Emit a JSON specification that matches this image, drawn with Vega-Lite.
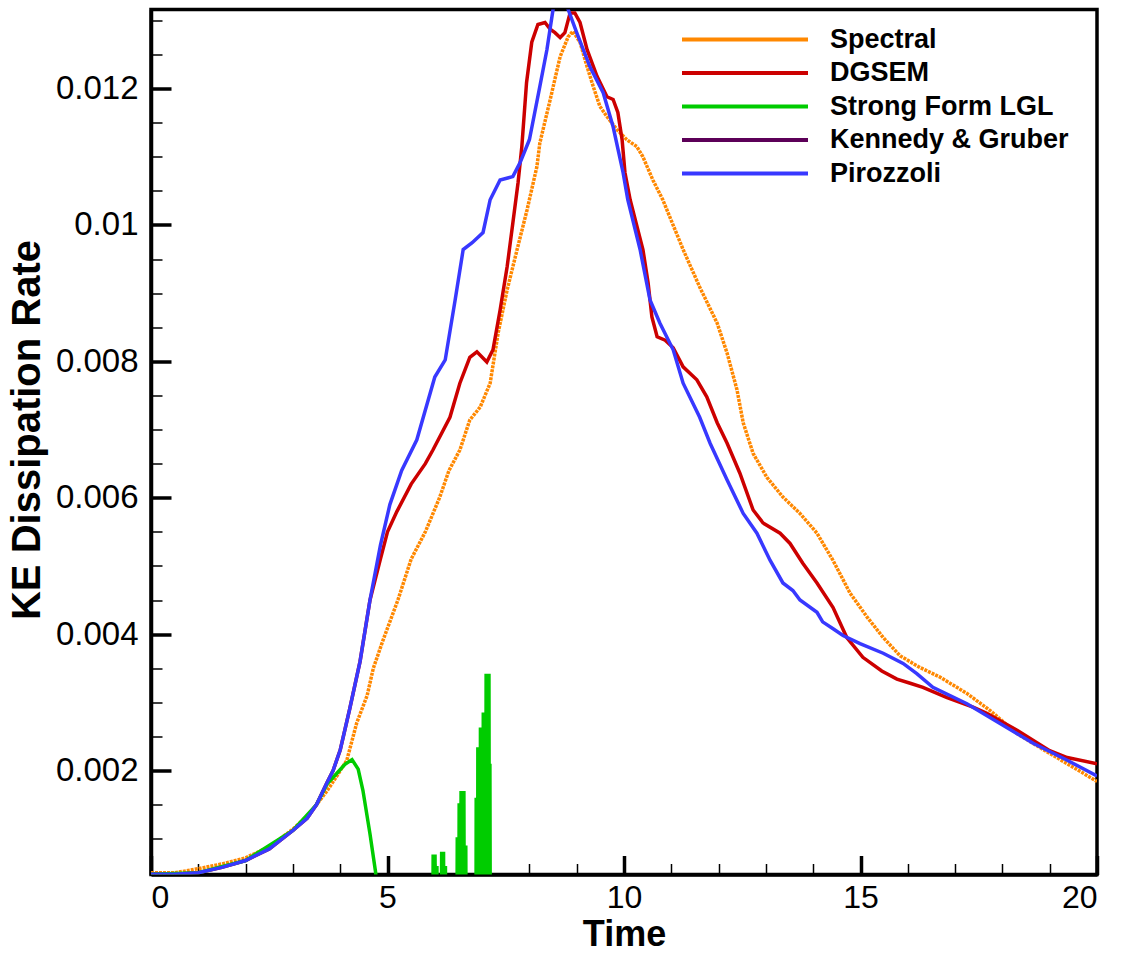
{
  "$schema": "https://vega.github.io/schema/vega-lite/v6.json",
  "width": 946,
  "height": 865,
  "autosize": "none",
  "padding": {"left": 151, "top": 9.5, "right": 24, "bottom": 79.5},
  "background": "white",
  "config": {
    "view": {"stroke": "black", "strokeWidth": 3.5},
    "axis": {
      "grid": false,
      "domainColor": "black",
      "domainWidth": 3.5,
      "tickColor": "black",
      "labelFont": "Liberation Sans",
      "labelFontSize": 33,
      "labelColor": "black",
      "titleFont": "Liberation Sans",
      "titleFontWeight": "bold",
      "titleColor": "black"
    },
    "legend": {
      "orient": "none",
      "legendX": 577,
      "legendY": 13,
      "title": null,
      "padding": 0,
      "symbolType": "M-4.2,0L4.2,0",
      "symbolSize": 900,
      "symbolStrokeWidth": 4,
      "labelFont": "Liberation Sans",
      "labelFontSize": 27,
      "labelFontWeight": "bold",
      "labelColor": "black",
      "labelLimit": 0,
      "labelOffset": 68,
      "rowPadding": 3.5
    }
  },
  "data": {
    "values": [
      {"s": "Spectral", "t": 0, "v": 0.0005},
      {"s": "Spectral", "t": 0.5, "v": 0.0005},
      {"s": "Spectral", "t": 1.0, "v": 0.00056},
      {"s": "Spectral", "t": 1.5, "v": 0.00063},
      {"s": "Spectral", "t": 2.0, "v": 0.00072},
      {"s": "Spectral", "t": 2.5, "v": 0.00088},
      {"s": "Spectral", "t": 3.0, "v": 0.00114},
      {"s": "Spectral", "t": 3.3, "v": 0.00133},
      {"s": "Spectral", "t": 3.5, "v": 0.0015},
      {"s": "Spectral", "t": 3.72, "v": 0.0017},
      {"s": "Spectral", "t": 3.93, "v": 0.00192},
      {"s": "Spectral", "t": 4.14, "v": 0.00215},
      {"s": "Spectral", "t": 4.35, "v": 0.0027},
      {"s": "Spectral", "t": 4.57, "v": 0.0031},
      {"s": "Spectral", "t": 4.7, "v": 0.0035},
      {"s": "Spectral", "t": 4.9, "v": 0.0039},
      {"s": "Spectral", "t": 5.22, "v": 0.0045},
      {"s": "Spectral", "t": 5.5, "v": 0.0051},
      {"s": "Spectral", "t": 5.8, "v": 0.0055},
      {"s": "Spectral", "t": 6.1, "v": 0.006},
      {"s": "Spectral", "t": 6.3, "v": 0.0064},
      {"s": "Spectral", "t": 6.53, "v": 0.0067},
      {"s": "Spectral", "t": 6.74, "v": 0.00714},
      {"s": "Spectral", "t": 6.96, "v": 0.00733},
      {"s": "Spectral", "t": 7.17, "v": 0.00768},
      {"s": "Spectral", "t": 7.34, "v": 0.00842},
      {"s": "Spectral", "t": 7.53, "v": 0.00905},
      {"s": "Spectral", "t": 7.74, "v": 0.00964},
      {"s": "Spectral", "t": 7.95, "v": 0.01022},
      {"s": "Spectral", "t": 8.16, "v": 0.01086},
      {"s": "Spectral", "t": 8.22, "v": 0.0112},
      {"s": "Spectral", "t": 8.44, "v": 0.01184},
      {"s": "Spectral", "t": 8.65, "v": 0.01247},
      {"s": "Spectral", "t": 8.82, "v": 0.01276},
      {"s": "Spectral", "t": 8.92, "v": 0.01284},
      {"s": "Spectral", "t": 9.07, "v": 0.01268},
      {"s": "Spectral", "t": 9.22, "v": 0.01232},
      {"s": "Spectral", "t": 9.35, "v": 0.01203},
      {"s": "Spectral", "t": 9.49, "v": 0.01174},
      {"s": "Spectral", "t": 9.64, "v": 0.01159},
      {"s": "Spectral", "t": 9.85, "v": 0.0114},
      {"s": "Spectral", "t": 10.06, "v": 0.01125},
      {"s": "Spectral", "t": 10.27, "v": 0.01115},
      {"s": "Spectral", "t": 10.4, "v": 0.011},
      {"s": "Spectral", "t": 10.61, "v": 0.01066},
      {"s": "Spectral", "t": 10.82, "v": 0.01037},
      {"s": "Spectral", "t": 11.25, "v": 0.00964},
      {"s": "Spectral", "t": 11.6, "v": 0.00909},
      {"s": "Spectral", "t": 11.97, "v": 0.00856},
      {"s": "Spectral", "t": 12.18, "v": 0.00812},
      {"s": "Spectral", "t": 12.39, "v": 0.00758},
      {"s": "Spectral", "t": 12.52, "v": 0.0071},
      {"s": "Spectral", "t": 12.73, "v": 0.00665},
      {"s": "Spectral", "t": 13.02, "v": 0.0063},
      {"s": "Spectral", "t": 13.36, "v": 0.00601},
      {"s": "Spectral", "t": 13.72, "v": 0.00577},
      {"s": "Spectral", "t": 14.08, "v": 0.00548},
      {"s": "Spectral", "t": 14.42, "v": 0.00508},
      {"s": "Spectral", "t": 14.78, "v": 0.0046},
      {"s": "Spectral", "t": 15.14, "v": 0.00425},
      {"s": "Spectral", "t": 15.48, "v": 0.00395},
      {"s": "Spectral", "t": 15.84, "v": 0.00368},
      {"s": "Spectral", "t": 16.26, "v": 0.00351},
      {"s": "Spectral", "t": 16.68, "v": 0.00337},
      {"s": "Spectral", "t": 17.25, "v": 0.00313},
      {"s": "Spectral", "t": 17.74, "v": 0.00288},
      {"s": "Spectral", "t": 18.31, "v": 0.00254},
      {"s": "Spectral", "t": 19.0, "v": 0.00225},
      {"s": "Spectral", "t": 19.37, "v": 0.0021},
      {"s": "Spectral", "t": 20.0, "v": 0.00184},

      {"s": "DGSEM", "t": 0, "v": 0.00048},
      {"s": "DGSEM", "t": 0.5, "v": 0.00048},
      {"s": "DGSEM", "t": 1.0, "v": 0.0005},
      {"s": "DGSEM", "t": 1.5, "v": 0.00058},
      {"s": "DGSEM", "t": 2.0, "v": 0.00068},
      {"s": "DGSEM", "t": 2.5, "v": 0.00085},
      {"s": "DGSEM", "t": 3.0, "v": 0.00112},
      {"s": "DGSEM", "t": 3.3, "v": 0.0013},
      {"s": "DGSEM", "t": 3.5, "v": 0.0015},
      {"s": "DGSEM", "t": 3.72, "v": 0.00182},
      {"s": "DGSEM", "t": 3.85, "v": 0.002},
      {"s": "DGSEM", "t": 4.0, "v": 0.0023},
      {"s": "DGSEM", "t": 4.2, "v": 0.0029},
      {"s": "DGSEM", "t": 4.42, "v": 0.0036},
      {"s": "DGSEM", "t": 4.63, "v": 0.0045},
      {"s": "DGSEM", "t": 4.85, "v": 0.0051},
      {"s": "DGSEM", "t": 5.0, "v": 0.0055},
      {"s": "DGSEM", "t": 5.2, "v": 0.0058},
      {"s": "DGSEM", "t": 5.5, "v": 0.0062},
      {"s": "DGSEM", "t": 5.8, "v": 0.0065},
      {"s": "DGSEM", "t": 5.96, "v": 0.0067},
      {"s": "DGSEM", "t": 6.32, "v": 0.00718},
      {"s": "DGSEM", "t": 6.53, "v": 0.00768},
      {"s": "DGSEM", "t": 6.74, "v": 0.00806},
      {"s": "DGSEM", "t": 6.89, "v": 0.00814},
      {"s": "DGSEM", "t": 7.1, "v": 0.00799},
      {"s": "DGSEM", "t": 7.23, "v": 0.00817},
      {"s": "DGSEM", "t": 7.38, "v": 0.00875},
      {"s": "DGSEM", "t": 7.53, "v": 0.00939},
      {"s": "DGSEM", "t": 7.65, "v": 0.01003},
      {"s": "DGSEM", "t": 7.76, "v": 0.01062},
      {"s": "DGSEM", "t": 7.84, "v": 0.01115},
      {"s": "DGSEM", "t": 7.94, "v": 0.01209},
      {"s": "DGSEM", "t": 8.05, "v": 0.01268},
      {"s": "DGSEM", "t": 8.18, "v": 0.01294},
      {"s": "DGSEM", "t": 8.33, "v": 0.01297},
      {"s": "DGSEM", "t": 8.44, "v": 0.01287},
      {"s": "DGSEM", "t": 8.54, "v": 0.01282},
      {"s": "DGSEM", "t": 8.65, "v": 0.01275},
      {"s": "DGSEM", "t": 8.75, "v": 0.01282},
      {"s": "DGSEM", "t": 8.86, "v": 0.01311},
      {"s": "DGSEM", "t": 8.96, "v": 0.01311},
      {"s": "DGSEM", "t": 9.07, "v": 0.01297},
      {"s": "DGSEM", "t": 9.22, "v": 0.01257},
      {"s": "DGSEM", "t": 9.43, "v": 0.01218},
      {"s": "DGSEM", "t": 9.64, "v": 0.01188},
      {"s": "DGSEM", "t": 9.77, "v": 0.01184},
      {"s": "DGSEM", "t": 9.87, "v": 0.01165},
      {"s": "DGSEM", "t": 9.96, "v": 0.01125},
      {"s": "DGSEM", "t": 10.02, "v": 0.01077},
      {"s": "DGSEM", "t": 10.13, "v": 0.01037},
      {"s": "DGSEM", "t": 10.4, "v": 0.00964},
      {"s": "DGSEM", "t": 10.51, "v": 0.00915},
      {"s": "DGSEM", "t": 10.59, "v": 0.00865},
      {"s": "DGSEM", "t": 10.7, "v": 0.00836},
      {"s": "DGSEM", "t": 10.87, "v": 0.00831},
      {"s": "DGSEM", "t": 11.04, "v": 0.0082},
      {"s": "DGSEM", "t": 11.25, "v": 0.00792},
      {"s": "DGSEM", "t": 11.54, "v": 0.00773},
      {"s": "DGSEM", "t": 11.75, "v": 0.00748},
      {"s": "DGSEM", "t": 11.97, "v": 0.0071},
      {"s": "DGSEM", "t": 12.18, "v": 0.0068},
      {"s": "DGSEM", "t": 12.45, "v": 0.00636},
      {"s": "DGSEM", "t": 12.73, "v": 0.00582},
      {"s": "DGSEM", "t": 12.94, "v": 0.00563},
      {"s": "DGSEM", "t": 13.3, "v": 0.00548},
      {"s": "DGSEM", "t": 13.51, "v": 0.00533},
      {"s": "DGSEM", "t": 13.78, "v": 0.00504},
      {"s": "DGSEM", "t": 14.08, "v": 0.00475},
      {"s": "DGSEM", "t": 14.42, "v": 0.00439},
      {"s": "DGSEM", "t": 14.71, "v": 0.00395},
      {"s": "DGSEM", "t": 15.05, "v": 0.00366},
      {"s": "DGSEM", "t": 15.45, "v": 0.00346},
      {"s": "DGSEM", "t": 15.77, "v": 0.00334},
      {"s": "DGSEM", "t": 16.05, "v": 0.00328},
      {"s": "DGSEM", "t": 16.32, "v": 0.00322},
      {"s": "DGSEM", "t": 16.83, "v": 0.00307},
      {"s": "DGSEM", "t": 17.38, "v": 0.00293},
      {"s": "DGSEM", "t": 17.67, "v": 0.00284},
      {"s": "DGSEM", "t": 18.31, "v": 0.00259},
      {"s": "DGSEM", "t": 19.0, "v": 0.00229},
      {"s": "DGSEM", "t": 19.37, "v": 0.00219},
      {"s": "DGSEM", "t": 20.0, "v": 0.0021},

      {"s": "Strong Form LGL", "t": 0, "v": 0.00048},
      {"s": "Strong Form LGL", "t": 1.0, "v": 0.0005},
      {"s": "Strong Form LGL", "t": 2.0, "v": 0.00068},
      {"s": "Strong Form LGL", "t": 3.0, "v": 0.00112},
      {"s": "Strong Form LGL", "t": 3.5, "v": 0.0015},
      {"s": "Strong Form LGL", "t": 3.72, "v": 0.0018},
      {"s": "Strong Form LGL", "t": 3.93, "v": 0.00196},
      {"s": "Strong Form LGL", "t": 4.1, "v": 0.00209},
      {"s": "Strong Form LGL", "t": 4.25, "v": 0.00216},
      {"s": "Strong Form LGL", "t": 4.38, "v": 0.00202},
      {"s": "Strong Form LGL", "t": 4.48, "v": 0.00171},
      {"s": "Strong Form LGL", "t": 4.63, "v": 0.00107},
      {"s": "Strong Form LGL", "t": 4.75, "v": 0.0005},
      {"s": "Strong Form LGL", "t": 4.85, "v": -0.0005},
      {"s": "Strong Form LGL", "t": 5.0, "v": -0.001},
      {"s": "Strong Form LGL", "t": 5.955, "v": -0.001},
      {"s": "Strong Form LGL", "t": 5.965, "v": 0.00077},
      {"s": "Strong Form LGL", "t": 5.975, "v": -0.001},
      {"s": "Strong Form LGL", "t": 5.985, "v": 0.00077},
      {"s": "Strong Form LGL", "t": 5.995, "v": -0.001},
      {"s": "Strong Form LGL", "t": 6.005, "v": 0.00077},
      {"s": "Strong Form LGL", "t": 6.015, "v": -0.001},
      {"s": "Strong Form LGL", "t": 6.025, "v": 0.0006},
      {"s": "Strong Form LGL", "t": 6.035, "v": -0.001},
      {"s": "Strong Form LGL", "t": 6.045, "v": 0.0006},
      {"s": "Strong Form LGL", "t": 6.055, "v": -0.001},
      {"s": "Strong Form LGL", "t": 6.135, "v": -0.001},
      {"s": "Strong Form LGL", "t": 6.145, "v": 0.00081},
      {"s": "Strong Form LGL", "t": 6.155, "v": -0.001},
      {"s": "Strong Form LGL", "t": 6.165, "v": 0.00081},
      {"s": "Strong Form LGL", "t": 6.175, "v": -0.001},
      {"s": "Strong Form LGL", "t": 6.185, "v": 0.00081},
      {"s": "Strong Form LGL", "t": 6.195, "v": -0.001},
      {"s": "Strong Form LGL", "t": 6.205, "v": 0.0006},
      {"s": "Strong Form LGL", "t": 6.215, "v": -0.001},
      {"s": "Strong Form LGL", "t": 6.225, "v": 0.0006},
      {"s": "Strong Form LGL", "t": 6.235, "v": -0.001},
      {"s": "Strong Form LGL", "t": 6.465, "v": -0.001},
      {"s": "Strong Form LGL", "t": 6.475, "v": 0.00102},
      {"s": "Strong Form LGL", "t": 6.485, "v": -0.001},
      {"s": "Strong Form LGL", "t": 6.495, "v": 0.00102},
      {"s": "Strong Form LGL", "t": 6.505, "v": -0.001},
      {"s": "Strong Form LGL", "t": 6.515, "v": 0.00152},
      {"s": "Strong Form LGL", "t": 6.525, "v": -0.001},
      {"s": "Strong Form LGL", "t": 6.535, "v": 0.00152},
      {"s": "Strong Form LGL", "t": 6.545, "v": -0.001},
      {"s": "Strong Form LGL", "t": 6.555, "v": 0.0017},
      {"s": "Strong Form LGL", "t": 6.565, "v": -0.001},
      {"s": "Strong Form LGL", "t": 6.575, "v": 0.0017},
      {"s": "Strong Form LGL", "t": 6.585, "v": -0.001},
      {"s": "Strong Form LGL", "t": 6.595, "v": 0.0017},
      {"s": "Strong Form LGL", "t": 6.605, "v": -0.001},
      {"s": "Strong Form LGL", "t": 6.615, "v": 0.0017},
      {"s": "Strong Form LGL", "t": 6.625, "v": -0.001},
      {"s": "Strong Form LGL", "t": 6.635, "v": 0.0009},
      {"s": "Strong Form LGL", "t": 6.645, "v": -0.001},
      {"s": "Strong Form LGL", "t": 6.655, "v": 0.0009},
      {"s": "Strong Form LGL", "t": 6.665, "v": -0.001},
      {"s": "Strong Form LGL", "t": 6.87, "v": -0.001},
      {"s": "Strong Form LGL", "t": 6.875, "v": 0.0016},
      {"s": "Strong Form LGL", "t": 6.885, "v": -0.001},
      {"s": "Strong Form LGL", "t": 6.895, "v": 0.0016},
      {"s": "Strong Form LGL", "t": 6.905, "v": -0.001},
      {"s": "Strong Form LGL", "t": 6.91, "v": 0.00234},
      {"s": "Strong Form LGL", "t": 6.92, "v": -0.001},
      {"s": "Strong Form LGL", "t": 6.93, "v": 0.00234},
      {"s": "Strong Form LGL", "t": 6.94, "v": -0.001},
      {"s": "Strong Form LGL", "t": 6.95, "v": 0.00234},
      {"s": "Strong Form LGL", "t": 6.96, "v": -0.001},
      {"s": "Strong Form LGL", "t": 6.965, "v": 0.00263},
      {"s": "Strong Form LGL", "t": 6.975, "v": -0.001},
      {"s": "Strong Form LGL", "t": 6.985, "v": 0.00263},
      {"s": "Strong Form LGL", "t": 6.995, "v": -0.001},
      {"s": "Strong Form LGL", "t": 7.005, "v": 0.00263},
      {"s": "Strong Form LGL", "t": 7.015, "v": -0.001},
      {"s": "Strong Form LGL", "t": 7.025, "v": 0.00285},
      {"s": "Strong Form LGL", "t": 7.035, "v": -0.001},
      {"s": "Strong Form LGL", "t": 7.045, "v": 0.00285},
      {"s": "Strong Form LGL", "t": 7.055, "v": -0.001},
      {"s": "Strong Form LGL", "t": 7.065, "v": 0.00285},
      {"s": "Strong Form LGL", "t": 7.075, "v": -0.001},
      {"s": "Strong Form LGL", "t": 7.085, "v": 0.00342},
      {"s": "Strong Form LGL", "t": 7.095, "v": -0.001},
      {"s": "Strong Form LGL", "t": 7.105, "v": 0.00342},
      {"s": "Strong Form LGL", "t": 7.115, "v": -0.001},
      {"s": "Strong Form LGL", "t": 7.125, "v": 0.00342},
      {"s": "Strong Form LGL", "t": 7.135, "v": -0.001},
      {"s": "Strong Form LGL", "t": 7.145, "v": 0.00342},
      {"s": "Strong Form LGL", "t": 7.155, "v": -0.001},
      {"s": "Strong Form LGL", "t": 7.165, "v": 0.0021},
      {"s": "Strong Form LGL", "t": 7.175, "v": -0.001},
      {"s": "Strong Form LGL", "t": 7.2, "v": -0.001},

      {"s": "Pirozzoli", "t": 0, "v": 0.00048},
      {"s": "Pirozzoli", "t": 0.5, "v": 0.00048},
      {"s": "Pirozzoli", "t": 1.0, "v": 0.0005},
      {"s": "Pirozzoli", "t": 1.5, "v": 0.00058},
      {"s": "Pirozzoli", "t": 2.0, "v": 0.00068},
      {"s": "Pirozzoli", "t": 2.5, "v": 0.00085},
      {"s": "Pirozzoli", "t": 3.0, "v": 0.00112},
      {"s": "Pirozzoli", "t": 3.3, "v": 0.0013},
      {"s": "Pirozzoli", "t": 3.5, "v": 0.0015},
      {"s": "Pirozzoli", "t": 3.72, "v": 0.00182},
      {"s": "Pirozzoli", "t": 3.85, "v": 0.002},
      {"s": "Pirozzoli", "t": 4.0, "v": 0.0023},
      {"s": "Pirozzoli", "t": 4.2, "v": 0.0029},
      {"s": "Pirozzoli", "t": 4.42, "v": 0.0036},
      {"s": "Pirozzoli", "t": 4.63, "v": 0.0045},
      {"s": "Pirozzoli", "t": 4.85, "v": 0.0053},
      {"s": "Pirozzoli", "t": 5.05, "v": 0.0059},
      {"s": "Pirozzoli", "t": 5.3, "v": 0.0064},
      {"s": "Pirozzoli", "t": 5.62, "v": 0.00685},
      {"s": "Pirozzoli", "t": 6.0, "v": 0.00777},
      {"s": "Pirozzoli", "t": 6.22, "v": 0.00802},
      {"s": "Pirozzoli", "t": 6.43, "v": 0.0089},
      {"s": "Pirozzoli", "t": 6.6, "v": 0.00964},
      {"s": "Pirozzoli", "t": 6.79, "v": 0.00974},
      {"s": "Pirozzoli", "t": 7.02, "v": 0.00989},
      {"s": "Pirozzoli", "t": 7.17, "v": 0.01037},
      {"s": "Pirozzoli", "t": 7.38, "v": 0.01066},
      {"s": "Pirozzoli", "t": 7.65, "v": 0.01071},
      {"s": "Pirozzoli", "t": 7.8, "v": 0.01091},
      {"s": "Pirozzoli", "t": 8.0, "v": 0.01125},
      {"s": "Pirozzoli", "t": 8.22, "v": 0.01203},
      {"s": "Pirozzoli", "t": 8.37, "v": 0.01257},
      {"s": "Pirozzoli", "t": 8.5, "v": 0.01316},
      {"s": "Pirozzoli", "t": 8.65, "v": 0.0135},
      {"s": "Pirozzoli", "t": 8.82, "v": 0.01316},
      {"s": "Pirozzoli", "t": 9.0, "v": 0.01282},
      {"s": "Pirozzoli", "t": 9.28, "v": 0.01232},
      {"s": "Pirozzoli", "t": 9.56, "v": 0.01194},
      {"s": "Pirozzoli", "t": 9.77, "v": 0.01144},
      {"s": "Pirozzoli", "t": 9.98, "v": 0.01077},
      {"s": "Pirozzoli", "t": 10.08, "v": 0.01037},
      {"s": "Pirozzoli", "t": 10.34, "v": 0.00964},
      {"s": "Pirozzoli", "t": 10.55, "v": 0.0089},
      {"s": "Pirozzoli", "t": 10.76, "v": 0.00856},
      {"s": "Pirozzoli", "t": 11.04, "v": 0.00817},
      {"s": "Pirozzoli", "t": 11.25, "v": 0.00768},
      {"s": "Pirozzoli", "t": 11.6, "v": 0.00718},
      {"s": "Pirozzoli", "t": 11.82, "v": 0.0068},
      {"s": "Pirozzoli", "t": 12.18, "v": 0.00626},
      {"s": "Pirozzoli", "t": 12.52, "v": 0.00577},
      {"s": "Pirozzoli", "t": 12.81, "v": 0.00548},
      {"s": "Pirozzoli", "t": 13.09, "v": 0.00508},
      {"s": "Pirozzoli", "t": 13.36, "v": 0.00475},
      {"s": "Pirozzoli", "t": 13.57, "v": 0.00464},
      {"s": "Pirozzoli", "t": 13.72, "v": 0.0045},
      {"s": "Pirozzoli", "t": 14.08, "v": 0.00432},
      {"s": "Pirozzoli", "t": 14.2, "v": 0.00418},
      {"s": "Pirozzoli", "t": 14.42, "v": 0.00408},
      {"s": "Pirozzoli", "t": 14.63, "v": 0.00398},
      {"s": "Pirozzoli", "t": 14.99, "v": 0.00386},
      {"s": "Pirozzoli", "t": 15.48, "v": 0.00372},
      {"s": "Pirozzoli", "t": 15.9, "v": 0.00357},
      {"s": "Pirozzoli", "t": 16.19, "v": 0.00342},
      {"s": "Pirozzoli", "t": 16.53, "v": 0.00322},
      {"s": "Pirozzoli", "t": 17.25, "v": 0.00298},
      {"s": "Pirozzoli", "t": 17.95, "v": 0.00269},
      {"s": "Pirozzoli", "t": 18.65, "v": 0.0024},
      {"s": "Pirozzoli", "t": 19.37, "v": 0.00215},
      {"s": "Pirozzoli", "t": 20.0, "v": 0.00192}
    ]
  },
  "encoding": {
    "x": {
      "field": "t",
      "type": "quantitative",
      "title": "Time",
      "scale": {"domain": [0, 20], "nice": false, "zero": false},
      "axis": {
        "values": [0,1,2,3,4,5,6,7,8,9,10,11,12,13,14,15,16,17,18,19,20],
        "format": "d",
        "labelExpr": "datum.value % 5 === 0 ? datum.label : ''",
        "labelFontSize": 32,
        "tickSize": {"condition": {"test": "datum.value % 5 === 0", "value": -19}, "value": -11},
        "tickWidth": {"condition": {"test": "datum.value % 5 === 0", "value": 3.5}, "value": 1.5},
        "labelPadding": 27,
        "titleFontSize": 36,
        "titlePadding": 4
      }
    },
    "y": {
      "field": "v",
      "type": "quantitative",
      "title": "KE Dissipation Rate",
      "scale": {"domain": [0.000475, 0.01316], "nice": false, "zero": false},
      "axis": {
        "values": [0.0005,0.001,0.0015,0.002,0.0025,0.003,0.0035,0.004,0.0045,0.005,0.0055,0.006,0.0065,0.007,0.0075,0.008,0.0085,0.009,0.0095,0.01,0.0105,0.011,0.0115,0.012,0.0125,0.013],
        "format": ".3~f",
        "labelExpr": "abs(datum.value * 500 - round(datum.value * 500)) < 0.001 ? datum.label : ''",
        "labelFontSize": 33,
        "tickSize": {"condition": {"test": "abs(datum.value * 500 - round(datum.value * 500)) < 0.001", "value": -20}, "value": -11},
        "tickWidth": {"condition": {"test": "abs(datum.value * 500 - round(datum.value * 500)) < 0.001", "value": 3.5}, "value": 1.5},
        "labelPadding": 33,
        "titleFontSize": 40,
        "titlePadding": 8,
        "titleY": 420
      }
    },
    "color": {
      "field": "s",
      "type": "nominal",
      "scale": {
        "domain": ["Spectral", "DGSEM", "Strong Form LGL", "Kennedy & Gruber", "Pirozzoli"],
        "range": ["#FF8800", "#CC0000", "#00CC00", "#5C0058", "#3838FF"]
      },
      "legend": {}
    }
  },
  "layer": [
    {
      "transform": [{"filter": "datum.s === 'Spectral'"}],
      "mark": {"type": "line", "clip": true, "strokeWidth": 3.5, "strokeDash": [3, 1]}
    },
    {
      "transform": [{"filter": "datum.s === 'DGSEM'"}],
      "mark": {"type": "line", "clip": true, "strokeWidth": 3.5}
    },
    {
      "transform": [{"filter": "datum.s === 'Strong Form LGL'"}],
      "mark": {"type": "line", "clip": true, "strokeWidth": 3.5}
    },
    {
      "transform": [{"filter": "datum.s === 'Pirozzoli'"}],
      "mark": {"type": "line", "clip": true, "strokeWidth": 3.5}
    }
  ]
}
